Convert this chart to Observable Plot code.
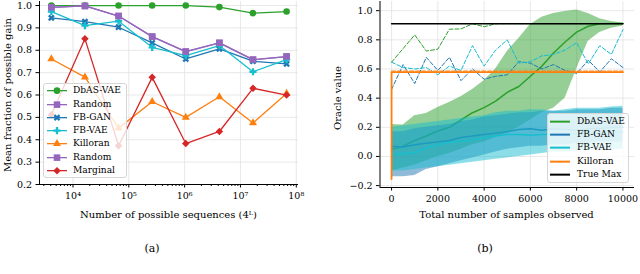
<!DOCTYPE html>
<html><head><meta charset="utf-8">
<script src="https://cdn.jsdelivr.net/npm/d3@7"></script>
<script src="https://cdn.jsdelivr.net/npm/@observablehq/plot@0.6"></script>
<style>
body{margin:0;background:#fff;width:640px;height:274px;overflow:hidden;position:relative;font-family:"DejaVu Serif",serif;color:#000;}
.abs{position:absolute;}
.lbl{position:absolute;white-space:nowrap;line-height:1;font-size:10px;}
.leg{position:absolute;background:rgba(255,255,255,0.8);border:1px solid #d6d6d6;border-radius:3px;box-sizing:border-box;}
.row{position:relative;height:13.3px;font-size:9.1px;line-height:13.3px;white-space:nowrap;}
.row svg{position:absolute;left:0;top:0;}
.row span{position:absolute;}
</style></head><body>
<div id="a" class="abs" style="left:0;top:0"></div>
<div id="b" class="abs" style="left:320px;top:0"></div>
<div class="lbl" style="left:8px;top:94.5px;transform:translate(-50%,-50%) rotate(-90deg)">Mean fraction of possible gain</div>
<div class="lbl" style="left:168.5px;top:215px;transform:translate(-50%,-50%)">Number of possible sequences (4ᴸ)</div>
<div class="lbl" style="left:152px;top:248px;transform:translate(-50%,-50%);font-size:11px">(a)</div>
<div class="lbl" style="left:338px;top:98px;transform:translate(-50%,-50%) rotate(-90deg)">Oracle value</div>
<div class="lbl" style="left:506.5px;top:215px;transform:translate(-50%,-50%)">Total number of samples observed</div>
<div class="lbl" style="left:485px;top:248px;transform:translate(-50%,-50%);font-size:11px">(b)</div>
<script>
// ---------- Panel (a) data ----------
const numSeqs = [4096, 16384, 65536, 262144, 1048576, 4194304, 16777216, 67108864];
const dbasA     = [1.0, 1.0, 1.0, 1.0, 1.0, 0.993, 0.966, 0.973];
const randomA   = [0.992, 0.998, 0.953, 0.861, 0.794, 0.833, 0.758, 0.772];
const fbganA    = [0.945, 0.928, 0.903, 0.833, 0.761, 0.806, 0.751, 0.739];
const fbvaeA    = [0.973, 0.910, 0.930, 0.813, 0.776, 0.821, 0.704, 0.758];
const killoranA = [0.761, 0.680, 0.452, 0.570, 0.500, 0.592, 0.475, 0.607];
const marginalA = [0.512, 0.851, 0.373, 0.679, 0.383, 0.437, 0.630, 0.600];
const legendNamesA = ["DbAS-VAE", "Random", "FB-GAN", "FB-VAE", "Killoran", "Random", "Marginal"];
const majorTicksA = [1e4, 1e5, 1e6, 1e7, 1e8];
const yTicksA = [0.2, 0.3, 0.4, 0.5, 0.6, 0.7, 0.8, 0.9, 1.0];

// ---------- Panel (b) data ----------
const samples = [0,500,1000,1500,2000,2500,3000,3500,4000,4500,5000,5500,6000,6500,7000,7500,8000,8500,9000,9500,10000];
const dbasMean = [0.05,0.07,0.11,0.14,0.175,0.20,0.25,0.30,0.335,0.38,0.44,0.48,0.55,0.62,0.71,0.785,0.853,0.893,0.91,0.912,0.912];
const dbasHi   = [0.22,0.215,0.28,0.295,0.335,0.37,0.41,0.46,0.52,0.60,0.72,0.81,0.905,0.955,0.98,0.995,1.004,0.98,0.945,0.925,0.915];
const dbasLo   = [-0.10,-0.08,-0.06,-0.03,0.0,0.02,0.05,0.08,0.10,0.13,0.16,0.20,0.25,0.30,0.33,0.40,0.60,0.79,0.85,0.88,0.895];
const dbasMax  = [0.647,0.74,0.834,0.723,0.736,0.873,0.875,0.91,0.89,0.91,0.911,0.911,0.911,0.911,0.911,0.911,0.911,0.911,0.911,0.911,0.911];
const fbganMean = [0.07,0.065,0.08,0.09,0.10,0.11,0.13,0.14,0.15,0.16,0.17,0.185,0.19,0.18,0.19,0.185,0.18,0.19,0.19,0.20,0.20];
const fbganHi   = [0.17,0.17,0.19,0.20,0.21,0.22,0.24,0.25,0.27,0.28,0.29,0.30,0.30,0.31,0.31,0.31,0.32,0.32,0.32,0.33,0.33];
const fbganLo   = [-0.14,-0.14,-0.13,-0.09,-0.07,-0.05,-0.03,-0.01,0.01,0.03,0.05,0.06,0.07,0.07,0.08,0.08,0.09,0.09,0.10,0.10,0.10];
const fbganMax  = [0.46,0.63,0.50,0.68,0.59,0.68,0.52,0.60,0.53,0.55,0.56,0.65,0.64,0.60,0.63,0.59,0.57,0.66,0.58,0.67,0.61];
const fbvaeMean = [0.015,0.02,0.025,0.06,0.08,0.095,0.105,0.115,0.13,0.14,0.15,0.15,0.145,0.15,0.15,0.155,0.16,0.16,0.165,0.17,0.17];
const fbvaeHi   = [0.20,0.21,0.22,0.23,0.24,0.25,0.26,0.27,0.28,0.30,0.31,0.31,0.32,0.32,0.31,0.32,0.33,0.33,0.33,0.34,0.345];
const fbvaeLo   = [-0.10,-0.10,-0.09,-0.08,-0.07,-0.06,-0.05,-0.04,-0.03,-0.02,-0.01,0.0,0.01,0.02,0.03,0.03,0.04,0.04,0.05,0.05,0.05];
const fbvaeMax  = [0.647,0.61,0.60,0.61,0.56,0.62,0.59,0.76,0.62,0.73,0.80,0.64,0.65,0.69,0.70,0.73,0.78,0.635,0.76,0.70,0.87];
const killoranX = [0, 0, 10000];
const killoranMean = [-0.155, 0.578, 0.578];
const killoranMaxX = [0, 10000];
const killoranMax = [0.586, 0.586];
const trueMaxX = [0, 10000];
const trueMax = [0.911, 0.911];
const xTicksB = [0, 2000, 4000, 6000, 8000, 10000];
const yTicksB = [-0.2, 0.0, 0.2, 0.4, 0.6, 0.8, 1.0];
const legendNamesB = ["DbAS-VAE", "FB-GAN", "FB-VAE", "Killoran", "True Max"];

const C = {green:"#2ca02c", purple:"#9467bd", blue:"#1f77b4", cyan:"#17becf", orange:"#ff7f0e", red:"#d62728", black:"#000000"};
const font = {fontFamily:'"DejaVu Serif", serif', fontSize:"9.5px", background:"transparent", overflow:"visible", color:"#000"};
const gridStyle = {stroke:"#e2e2e2", strokeOpacity:1, strokeWidth:0.8};

// ---------- Panel (a) ----------
const seriesA = [
  {name:legendNamesA[0], values:dbasA, color:C.green, symbol:"circle", r:3.3, rotate:0},
  {name:legendNamesA[1], values:randomA, color:C.purple, symbol:"square", r:3.7, rotate:0},
  {name:legendNamesA[2], values:fbganA, color:C.blue, symbol:"cross", r:3.0, rotate:45},
  {name:legendNamesA[3], values:fbvaeA, color:C.cyan, symbol:"cross", r:3.0, rotate:0},
  {name:legendNamesA[4], values:killoranA, color:C.orange, symbol:"triangle", r:3.0, rotate:0},
  {name:legendNamesA[5], values:randomA, color:C.purple, symbol:"square", r:3.7, rotate:0},
  {name:legendNamesA[6], values:marginalA, color:C.red, symbol:"square", r:3.0, rotate:45}
];
const xDomA = [Math.pow(10, 3.40), Math.pow(10, 8.04)];
const yDomA = [0.2, 1.018];
const minorA = d3.scaleLog().domain(xDomA).ticks().filter(t => Math.abs(Math.log10(t) - Math.round(Math.log10(t))) > 1e-9);
const sup = n => "10" + String(n).split("").map(c => "⁰¹²³⁴⁵⁶⁷⁸⁹"[+c]).join("");

const marksA = [
  Plot.gridX(majorTicksA, gridStyle),
  Plot.gridY(yTicksA, gridStyle)
];
for (const s of seriesA) {
  const rows = numSeqs.map((x, i) => ({x, y: s.values[i]}));
  marksA.push(Plot.line(rows, {x:"x", y:"y", stroke:s.color, strokeWidth:1.3}));
  marksA.push(Plot.dot(rows, {x:"x", y:"y", fill:s.color, symbol:s.symbol, r:s.r, rotate:s.rotate}));
}
marksA.push(
  Plot.ruleX([xDomA[0]], {stroke:"#000", strokeWidth:1}),
  Plot.ruleY([yDomA[0]], {stroke:"#000", strokeWidth:1}),
  Plot.axisX(majorTicksA, {tickSize:3.5, tickPadding:4, tickFormat: d => sup(Math.round(Math.log10(d)))}),
  Plot.axisX(minorA, {tickSize:2, tickFormat: () => ""}),
  Plot.axisY(yTicksA, {tickSize:3.5, tickPadding:4, tickFormat: d3.format(".1f")})
);
const plotA = Plot.plot({
  width:320, height:200, marginLeft:39, marginRight:22, marginTop:1, marginBottom:16,
  x:{type:"log", domain:xDomA, label:null},
  y:{domain:yDomA, label:null},
  style:font,
  marks:marksA
});
document.getElementById("a").appendChild(plotA);

// ---------- Panel (b) ----------
const methodsB = [
  {mean:dbasMean, lo:dbasLo, hi:dbasHi, max:dbasMax, color:C.green},
  {mean:fbganMean, lo:fbganLo, hi:fbganHi, max:fbganMax, color:C.blue},
  {mean:fbvaeMean, lo:fbvaeLo, hi:fbvaeHi, max:fbvaeMax, color:C.cyan}
];
const xDomB = [-500, 10500];
const yDomB = [-0.213, 1.063];
const marksB = [
  Plot.gridX(xTicksB, gridStyle),
  Plot.gridY(yTicksB, gridStyle)
];
for (const m of methodsB) {
  const rows = samples.map((x, i) => ({x, mean:m.mean[i], lo:m.lo[i], hi:m.hi[i], max:m.max[i]}));
  marksB.push(Plot.areaY(rows, {x:"x", y1:"lo", y2:"hi", fill:m.color, fillOpacity:0.5}));
  marksB.push(Plot.line(rows, {x:"x", y:"mean", stroke:m.color, strokeWidth:1.5}));
  marksB.push(Plot.line(rows, {x:"x", y:"max", stroke:m.color, strokeWidth:1, strokeDasharray:"4,2"}));
}
marksB.push(
  Plot.line(killoranX.map((x, i) => ({x, y:killoranMean[i]})), {x:"x", y:"y", stroke:C.orange, strokeWidth:1.8}),
  Plot.line(killoranMaxX.map((x, i) => ({x, y:killoranMax[i]})), {x:"x", y:"y", stroke:C.orange, strokeWidth:1, strokeDasharray:"4,2"}),
  Plot.line(trueMaxX.map((x, i) => ({x, y:trueMax[i]})), {x:"x", y:"y", stroke:C.black, strokeWidth:1.5}),
  Plot.ruleX([xDomB[0]], {stroke:"#000", strokeWidth:1}),
  Plot.ruleY([yDomB[0]], {stroke:"#000", strokeWidth:1}),
  Plot.axisX(xTicksB, {tickSize:3.5, tickPadding:4, tickFormat: d => String(d)}),
  Plot.axisY(yTicksB, {tickSize:3.5, tickPadding:4, tickFormat: d3.format(".1f")})
);
const plotB = Plot.plot({
  width:320, height:200, marginLeft:59.5, marginRight:6, marginTop:1, marginBottom:13,
  x:{domain:xDomB, label:null},
  y:{domain:yDomB, label:null},
  style:font,
  marks:marksB
});
document.getElementById("b").appendChild(plotB);

// ---------- Legends (HTML overlays) ----------
const symMap = {circle:d3.symbolCircle, square:d3.symbolSquare, cross:d3.symbolCross, triangle:d3.symbolTriangle};
function makeLegend(box, items, o) {
  const div = document.createElement("div");
  div.className = "leg";
  Object.assign(div.style, {left:box.left+"px", top:box.top+"px", width:box.width+"px", height:box.height+"px", paddingTop:box.pad+"px"});
  for (const it of items) {
    const row = document.createElement("div");
    row.className = "row";
    const svg = d3.create("svg").attr("width", 30).attr("height", 13.3);
    svg.append("line").attr("x1", o.x1).attr("x2", o.x2).attr("y1", 6.65).attr("y2", 6.65)
      .attr("stroke", it.color).attr("stroke-width", o.lw);
    if (it.symbol) {
      svg.append("path")
        .attr("d", d3.symbol(symMap[it.symbol], Math.PI * it.r * it.r)())
        .attr("transform", `translate(${(o.x1 + o.x2) / 2},6.65) rotate(${it.rotate || 0})`)
        .attr("fill", it.color);
    }
    row.appendChild(svg.node());
    const sp = document.createElement("span");
    sp.style.left = o.tx + "px";
    sp.textContent = it.name;
    row.appendChild(sp);
    div.appendChild(row);
  }
  document.body.appendChild(div);
}
makeLegend({left:43, top:83, width:84, height:95, pad:0.3}, seriesA, {x1:3, x2:23, lw:1.3, tx:29});
const itemsB = [
  {name:legendNamesB[0], color:C.green},
  {name:legendNamesB[1], color:C.blue},
  {name:legendNamesB[2], color:C.cyan},
  {name:legendNamesB[3], color:C.orange},
  {name:legendNamesB[4], color:C.black}
];
makeLegend({left:547, top:113, width:82, height:70, pad:0.7}, itemsB, {x1:2, x2:22, lw:2, tx:29});
</script>
</body></html>
